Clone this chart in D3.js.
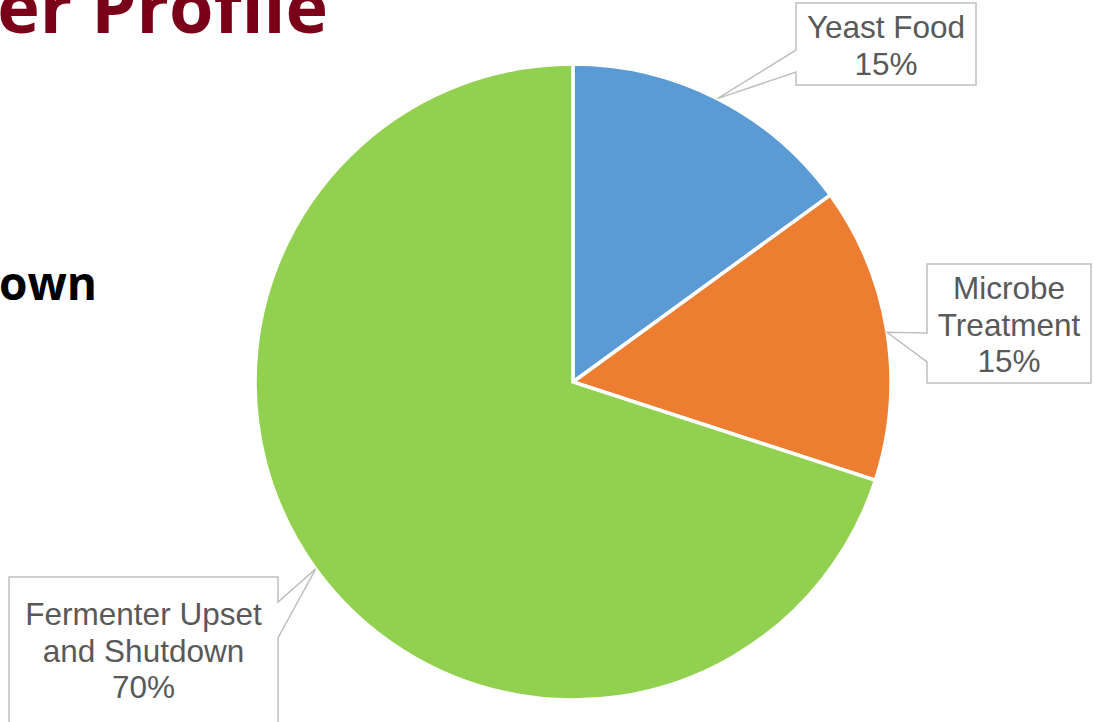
<!DOCTYPE html>
<html>
<head>
  <script src="https://cdnjs.cloudflare.com/ajax/libs/d3/7.8.5/d3.min.js"></script>
  <style>
    body { margin: 0; background: #fff; }
    svg { display: block; }
    .label { font-family: "Liberation Sans", Arial, sans-serif; font-size: 31.5px; fill: #595959; }
  </style>
</head>
<body>
<svg id="chart" width="1095" height="722"></svg>
<script>
var categories = ["Yeast Food", "Microbe Treatment", "Fermenter Upset and Shutdown"];
var values = [15, 15, 70];
var labelLines = [["Yeast Food"], ["Microbe", "Treatment"], ["Fermenter Upset", "and Shutdown"]];
var colors = ["#5B9BD5", "#ED7D31", "#92D050"];

var svg = d3.select("#chart");
var cx = 573, cy = 382, r = 318;

// bits of the slide behind the chart
svg.append("text")
  .attr("x", 328).attr("y", 33)
  .attr("text-anchor", "end")
  .style("font-family", "'Open Sans', sans-serif")
  .style("font-weight", "bold")
  .style("font-size", "72px")
  .style("fill", "#7A0019")
  .text("er Profile");

svg.append("text")
  .attr("x", 97).attr("y", 300)
  .attr("text-anchor", "end")
  .style("font-family", "'Open Sans', sans-serif")
  .style("font-weight", "bold")
  .style("font-size", "46px")
  .style("fill", "#000")
  .text("own");

var total = d3.sum(values);
var pie = d3.pie().sort(null).value(d => d);
var arc = d3.arc().innerRadius(0).outerRadius(r);
var arcs = pie(values);

var g = svg.append("g").attr("transform", "translate(" + cx + "," + cy + ")");

g.selectAll("path")
  .data(arcs)
  .enter()
  .append("path")
  .attr("d", arc)
  .style("fill", (d, i) => colors[i])
  .style("stroke", "#fff")
  .style("stroke-width", "3.5px");

// callout boxes relative to centre, pointer base on the side facing the pie
var boxes = [
  { x: 223, y: -379, w: 180, h: 82, side: "left", b1: 47, b2: 69, ty: 35 },
  { x: 354, y: -118, w: 164, h: 119, side: "left", b1: 69, b2: 98, ty: 35 },
  { x: -564, y: 195, w: 269, h: 160, side: "right", b1: 25, b2: 61, ty: 48 }
];

arcs.forEach(function(d, i) {
  var b = boxes[i];
  var mid = (d.startAngle + d.endAngle) / 2;
  var tx = Math.sin(mid) * r, ty = -Math.cos(mid) * r;
  var pts;
  if (b.side === "left") {
    pts = [[b.x, b.y], [b.x + b.w, b.y], [b.x + b.w, b.y + b.h], [b.x, b.y + b.h],
           [b.x, b.y + b.b2], [tx, ty], [b.x, b.y + b.b1]];
  } else {
    pts = [[b.x, b.y], [b.x + b.w, b.y], [b.x + b.w, b.y + b.b1], [tx, ty],
           [b.x + b.w, b.y + b.b2], [b.x + b.w, b.y + b.h], [b.x, b.y + b.h]];
  }
  g.append("path")
    .attr("d", "M" + pts.map(p => p.join(",")).join("L") + "Z")
    .style("fill", "#fff")
    .style("stroke", "#BFBFBF")
    .style("stroke-width", "1.5px");

  var lines = labelLines[i].concat([Math.round(values[i] / total * 100) + "%"]);
  var lh = 36.5;
  var t = g.append("text")
    .attr("class", "label")
    .attr("text-anchor", "middle");
  lines.forEach(function(l, j) {
    t.append("tspan")
      .attr("x", b.x + b.w / 2)
      .attr("y", b.y + b.ty + j * lh)
      .text(l);
  });
});
</script>
</body>
</html>
